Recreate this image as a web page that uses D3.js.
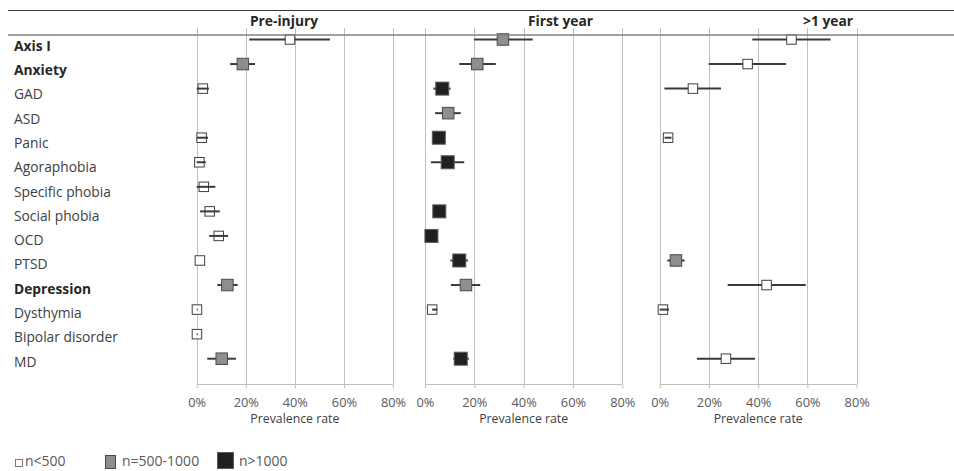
<!DOCTYPE html>
<html>
<head>
<meta charset="utf-8">
<script src="https://cdn.jsdelivr.net/npm/d3@7"></script>
<style>
  html, body { margin: 0; padding: 0; background: #fff; }
  svg { display: block; font-family: "Open Sans", "Noto Sans", sans-serif; }
</style>
</head>
<body>
<svg id="chart" width="954" height="471"></svg>
<script>
// Disorder categories, top to bottom
const categories = ["Axis I", "Anxiety", "GAD", "ASD", "Panic", "Agoraphobia", "Specific phobia",
  "Social phobia", "OCD", "PTSD", "Depression", "Dysthymia", "Bipolar disorder", "MD"];
const headingCategories = ["Axis I", "Anxiety", "Depression"];

const periods = ["Pre-injury", "First year", ">1 year"];
const sampleGroups = ["n<500", "n=500-1000", "n>1000"];
const tickValues = [0, 20, 40, 60, 80];
const axisTitle = "Prevalence rate";

// Pooled prevalence (%), 95% CI bounds and sample-size group index per period
const preRate  = [38.0, 18.8, 2.5, null, 2.0, 1.1, 2.9, 5.3, 9.0, 1.3, 12.5, 0.1, 0.1, 10.2];
const preLow   = [21.4, 13.6, 0.0, null, 0.0, 0.0, 0.0, 1.4, 5.1, 1.3, 8.4, 0.0, 0.0, 4.3];
const preHigh  = [54.3, 23.8, 5.0, null, 4.6, 3.7, 7.6, 9.4, 12.8, 1.3, 16.7, 0.4, 0.4, 16.0];
const preGroup = [0, 1, 0, null, 0, 0, 0, 0, 0, 0, 1, 0, 0, 1];

const firstRate  = [31.6, 21.2, 7.0, 9.4, 5.6, 9.2, null, 5.8, 2.6, 13.9, 16.6, 2.9, null, 14.5];
const firstLow   = [19.9, 13.9, 3.4, 4.1, 5.6, 2.4, null, 5.8, 2.6, 10.3, 10.5, 2.9, null, 11.5];
const firstHigh  = [43.7, 28.7, 10.4, 14.5, 5.6, 15.9, null, 5.8, 2.6, 17.4, 22.4, 5.0, null, 17.8];
const firstGroup = [1, 1, 2, 1, 2, 2, null, 2, 2, 2, 1, 0, null, 2];

const lateRate  = [53.5, 35.7, 13.5, null, 3.4, null, null, null, null, 6.6, 43.4, 1.3, null, 26.9];
const lateLow   = [37.6, 19.9, 1.9, null, 2.0, null, null, null, null, 3.1, 27.6, 0.0, null, 15.1];
const lateHigh  = [69.4, 51.3, 24.9, null, 4.8, null, null, null, null, 10.1, 59.3, 3.8, null, 38.7];
const lateGroup = [0, 0, 0, null, 0, null, null, null, null, 1, 0, 0, null, 0];

const periodSeries = [
  { rate: preRate, low: preLow, high: preHigh, group: preGroup },
  { rate: firstRate, low: firstLow, high: firstHigh, group: firstGroup },
  { rate: lateRate, low: lateLow, high: lateHigh, group: lateGroup }
];

// ---- layout ----
const panelRanges = [[196.7, 393], [425, 622.3], [659.7, 856.7]];
const headerCenters = [284, 560.5, 828];
const gridTop = 28, axisY = 384;
const markerSize = [9.5, 11.5, 13];
const markerFill = ["#ffffff", "#8e8e8e", "#231f20"];
const markerStroke = ["#3f3f3f", "#4a4a4a", "#5a5a5a"];

const svg = d3.select("#chart");

const yMark = d3.scalePoint().domain(categories).range([39.5, 358.7]);
const yLabel = d3.scalePoint().domain(categories).range([50.7, 366.6]);

// top rule
svg.append("line").attr("x1", 8).attr("x2", 954).attr("y1", 10.5).attr("y2", 10.5)
  .attr("stroke", "#3a3a3a").attr("stroke-width", 1.2);

// category labels
svg.append("g").selectAll("text").data(categories).join("text")
  .attr("x", 14).attr("y", d => yLabel(d))
  .attr("font-size", 13.8)
  .attr("font-weight", d => headingCategories.includes(d) ? 700 : 400)
  .attr("fill", d => headingCategories.includes(d) ? "#262626" : "#404040")
  .text(d => d);

periods.forEach((period, p) => {
  const x = d3.scaleLinear().domain([0, 80]).range(panelRanges[p]);
  const g = svg.append("g");

  // vertical gridlines
  g.append("g").selectAll("line").data(tickValues).join("line")
    .attr("x1", d => Math.round(x(d)) + 0.5).attr("x2", d => Math.round(x(d)) + 0.5)
    .attr("y1", gridTop).attr("y2", axisY)
    .attr("stroke", "#bfbfbf").attr("stroke-width", 1);

  // bottom axis
  const axis = d3.axisBottom(x).tickValues(tickValues).tickSize(4).tickPadding(9)
    .tickFormat(d => d + "%");
  const ag = g.append("g").attr("transform", `translate(0,${axisY + 0.5})`).call(axis);
  ag.select(".domain").attr("stroke", "#bfbfbf").attr("d", `M${x(0)},0H${x(80)}`);
  ag.selectAll(".tick line").attr("stroke", "#bfbfbf");
  ag.selectAll(".tick text").attr("font-size", 12.8).attr("fill", "#595959")
    .attr("font-family", "'Open Sans', sans-serif");

  g.append("text").attr("x", (x(0) + x(80)) / 2).attr("y", 422.5)
    .attr("text-anchor", "middle").attr("font-size", 12.3).attr("fill", "#404040")
    .text(axisTitle);

  // period heading
  svg.append("text").attr("x", headerCenters[p]).attr("y", 26)
    .attr("text-anchor", "middle").attr("font-size", 13.8).attr("font-weight", 700)
    .attr("fill", "#262626").text(period);

  const s = periodSeries[p];
  const pts = categories.map((c, i) => ({
    cat: c, rate: s.rate[i], low: s.low[i], high: s.high[i], group: s.group[i]
  })).filter(d => d.rate !== null);

  // wide intervals pass behind the marker, narrow ones are drawn across it
  const isNarrow = d => d.group === 0 && (d.high - d.low) < 12;

  const ci = (sel) => sel
    .attr("x1", d => x(d.low)).attr("x2", d => x(d.high))
    .attr("y1", d => yMark(d.cat)).attr("y2", d => yMark(d.cat))
    .attr("stroke", "#3a3a3a").attr("stroke-width", 2);

  g.append("g").selectAll("line").data(pts.filter(d => !isNarrow(d))).join("line").call(ci);

  g.append("g").selectAll("rect").data(pts).join("rect")
    .attr("x", d => x(d.rate) - markerSize[d.group] / 2)
    .attr("y", d => yMark(d.cat) - markerSize[d.group] / 2)
    .attr("width", d => markerSize[d.group])
    .attr("height", d => markerSize[d.group])
    .attr("fill", d => markerFill[d.group])
    .attr("stroke", d => markerStroke[d.group])
    .attr("stroke-width", 1);

  g.append("g").selectAll("line").data(pts.filter(isNarrow)).join("line").call(ci);
});

// heading rule
svg.append("line").attr("x1", 8).attr("x2", 954).attr("y1", 35).attr("y2", 35)
  .attr("stroke", "#808080").attr("stroke-width", 1.5);

// legend
const legendBoxes = [
  { x: 15, y: 459, w: 7, h: 7 },
  { x: 105, y: 455, w: 10, h: 13 },
  { x: 217, y: 452, w: 16, h: 16 }
];
const legendText = [25, 122, 239];
const lg = svg.append("g");
sampleGroups.forEach((name, i) => {
  const b = legendBoxes[i];
  lg.append("rect").attr("x", b.x + 0.5).attr("y", b.y + 0.5).attr("width", b.w).attr("height", b.h)
    .attr("fill", markerFill[i]).attr("stroke", i === 0 ? "#7a7a7a" : markerStroke[i]).attr("stroke-width", 1);
  lg.append("text").attr("x", legendText[i]).attr("y", 466)
    .attr("font-size", 14).attr("fill", "#595959").text(name);
});
</script>
</body>
</html>
